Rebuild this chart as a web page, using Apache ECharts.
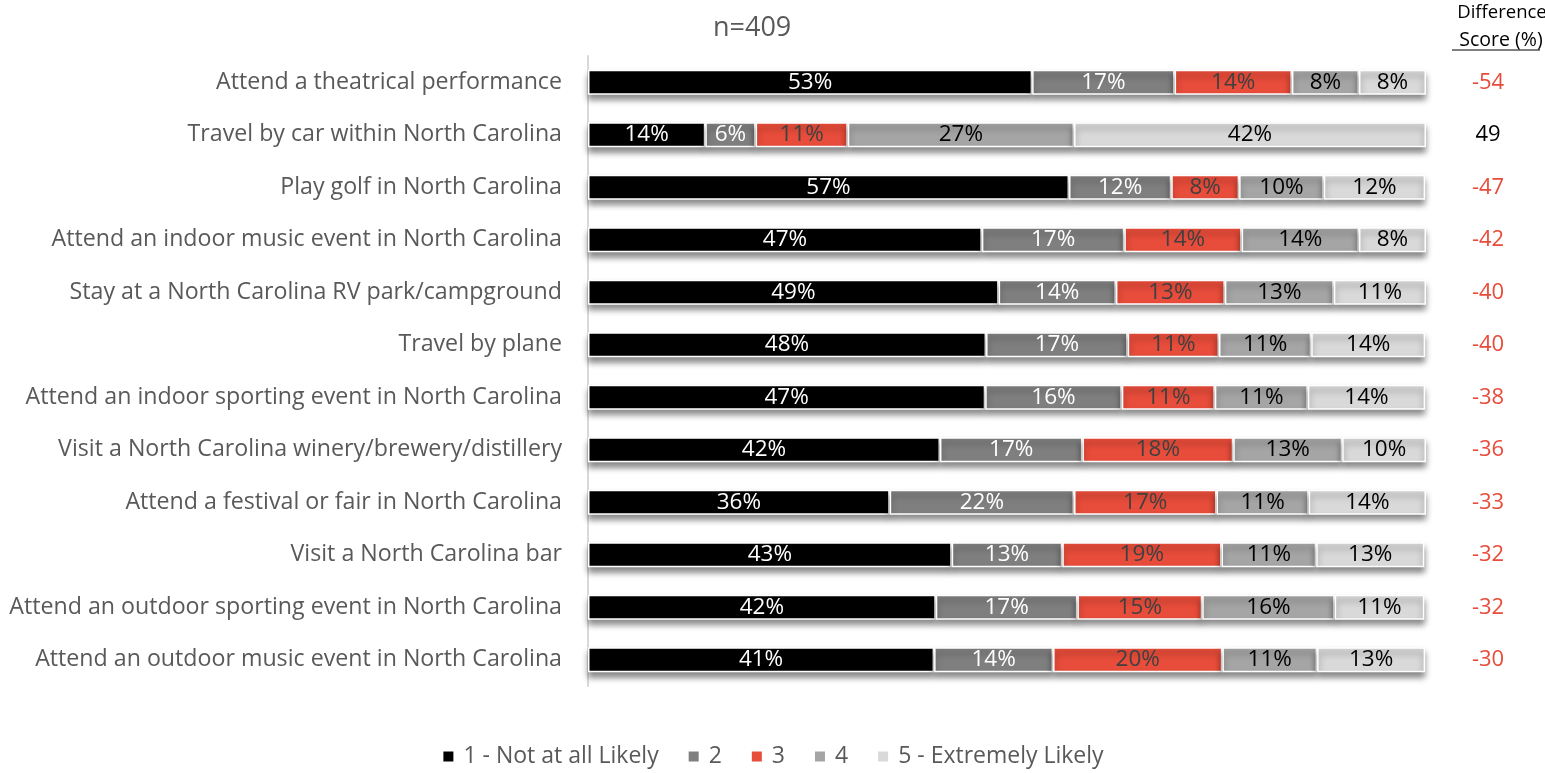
<!DOCTYPE html>
<html>
<head>
<meta charset="utf-8">
<script src="https://cdn.jsdelivr.net/npm/echarts@6/dist/echarts.min.js"></script>
<style>
html,body{margin:0;padding:0;background:#fff;}
#chart{width:1545px;height:773px;}
</style>
</head>
<body>
<div id="chart"></div>
<script>
// Categories (top to bottom)
const categories = [
  'Attend a theatrical performance',
  'Travel by car within North Carolina',
  'Play golf in North Carolina',
  'Attend an indoor music event in North Carolina',
  'Stay at a North Carolina RV park/campground',
  'Travel by plane',
  'Attend an indoor sporting event in North Carolina',
  'Visit a North Carolina winery/brewery/distillery',
  'Attend a festival or fair in North Carolina',
  'Visit a North Carolina bar',
  'Attend an outdoor sporting event in North Carolina',
  'Attend an outdoor music event in North Carolina'
];
const seriesNames = ['1 - Not at all Likely', '2', '3', '4', '5 - Extremely Likely'];
const s1 = [53, 14, 57.4, 47, 49, 47.5, 47.4, 42, 36, 43.4, 41.5, 41.3];
const s2 = [17, 6, 12.2, 17, 14, 16.9, 16.3, 17, 22, 13.2, 16.9, 14.2];
const s3 = [14, 11, 8.1, 14, 13, 10.9, 11.1, 18, 17, 19.0, 14.9, 20.2];
const s4 = [8, 27, 10.1, 14, 13, 11.0, 11.1, 13, 11, 11.3, 15.8, 11.3];
const s5 = [8, 42, 12.1, 8, 11, 13.6, 14.0, 10, 14, 12.9, 10.7, 12.9];
const diffScores = [-54, 49, -47, -42, -40, -40, -38, -36, -33, -32, -32, -30];

const colors = ['#000000', '#7f7f7f', '#e84c3a', '#a5a5a5', '#d9d9d9'];
const labelColors = ['#ffffff', '#ffffff', '#404040', '#000000', '#000000'];
const values = [s1, s2, s3, s4, s5];

const FONT = '"Open Sans", "Noto Sans", sans-serif';
const chart = echarts.init(document.getElementById('chart'), null, {renderer: 'canvas'});

const series = values.map((v, i) => ({
  name: seriesNames[i],
  type: 'bar',
  stack: 'total',
  data: v,
  barWidth: 25,
  itemStyle: {
    color: colors[i],
    borderColor: '#ffffff',
    borderWidth: 1.5,
    shadowColor: 'rgba(0,0,0,0.45)',
    shadowBlur: 6,
    shadowOffsetY: 5
  },
  label: {
    show: true,
    position: 'inside',
    formatter: p => Math.round(p.value) + '%',
    color: labelColors[i],
    fontFamily: FONT,
    fontSize: 22.5
  },
  emphasis: {disabled: true}
}));

chart.setOption({
  animation: false,
  backgroundColor: '#ffffff',
  textStyle: {fontFamily: FONT},
  title: [
    {text: 'n=409', left: 708, top: 10, textStyle: {fontFamily: FONT, fontSize: 27, fontWeight: 'normal', color: '#595959'}},
    {text: 'Difference', left: 1497, top: -2, textAlign: 'center', textStyle: {fontFamily: FONT, fontSize: 18.5, fontWeight: 'normal', color: '#000000'}},
    {text: 'Score (%)', left: 1496, top: 25, textAlign: 'center', textStyle: {fontFamily: FONT, fontSize: 19.5, fontWeight: 'normal', color: '#000000'}}
  ],
  graphic: [
    {type: 'line', shape: {x1: 1452, y1: 50, x2: 1540, y2: 50}, style: {stroke: '#000000', lineWidth: 1.2}, silent: true}
  ],
  legend: {
    data: seriesNames,
    bottom: 0,
    left: 'center',
    itemWidth: 12,
    itemHeight: 12,
    itemGap: 28,
    icon: 'rect',
    textStyle: {fontFamily: FONT, fontSize: 23, color: '#595959', padding: [0, 0, 0, 4]}
  },
  grid: {left: 588, right: 119, top: 56, bottom: 87, containLabel: false},
  xAxis: {
    type: 'value', min: 0, max: 100, show: false
  },
  yAxis: [
    {
      type: 'category',
      data: categories,
      inverse: true,
      axisLine: {show: true, lineStyle: {color: '#d9d9d9', width: 2}},
      axisTick: {show: false},
      axisLabel: {fontFamily: FONT, fontSize: 23.2, color: '#595959', margin: 26}
    },
    {
      type: 'category',
      data: diffScores.map(String),
      inverse: true,
      position: 'right',
      axisLine: {show: false},
      axisTick: {show: false},
      axisLabel: {
        fontFamily: FONT, fontSize: 22, align: 'center', margin: 62,
        color: (val, idx) => (diffScores[idx] < 0 ? '#e84c3a' : '#000000')
      }
    }
  ],
  series: series
});
</script>
</body>
</html>
